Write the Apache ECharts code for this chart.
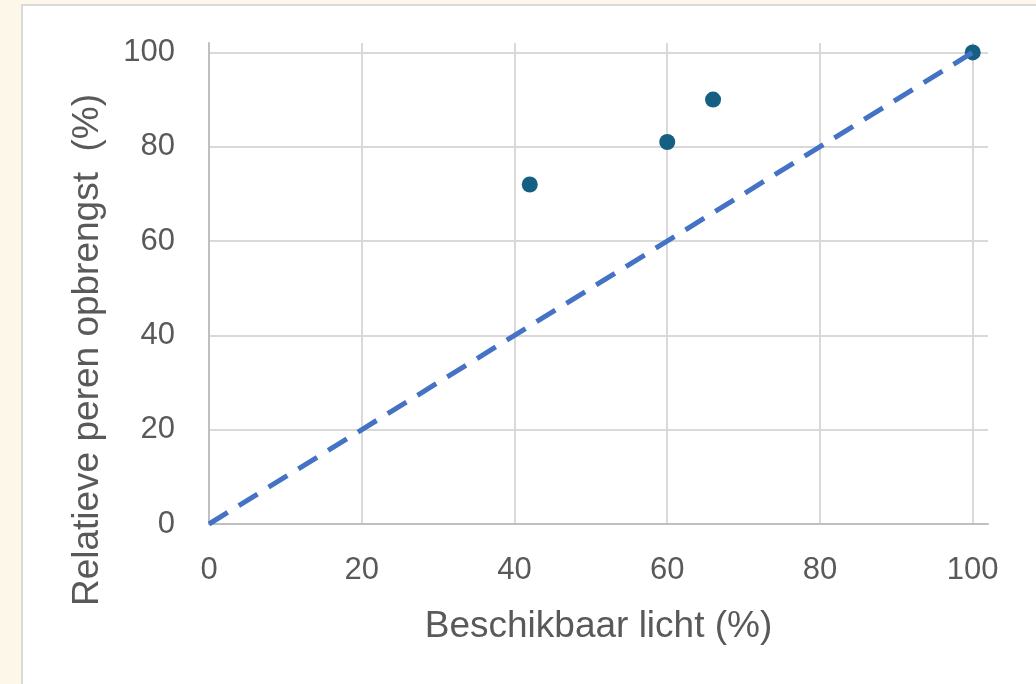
<!DOCTYPE html>
<html>
<head>
<meta charset="utf-8">
<script src="https://cdn.jsdelivr.net/npm/echarts@6/dist/echarts.min.js"></script>
<style>
  html, body { margin: 0; padding: 0; background: #fdf7ea; }
  #chart { width: 1036px; height: 684px; }
</style>
</head>
<body>
<div id="chart"></div>
<script>
// Data
const lightValues = [42, 60, 66, 100];   // Beschikbaar licht (%)
const yieldValues = [72, 81, 90, 100];   // Relatieve peren opbrengst (%)
const refLineX = [0, 100];
const refLineY = [0, 100];
const xTicks = [0, 20, 40, 60, 80, 100];
const yTicks = [0, 20, 40, 60, 80, 100];
const xTitle = 'Beschikbaar licht (%)';
const yTitle = 'Relatieve peren opbrengst  (%)';

const scatterData = lightValues.map((v, i) => [v, yieldValues[i]]);
const lineData = refLineX.map((v, i) => [v, refLineY[i]]);

const chart = echarts.init(document.getElementById('chart'), null, { renderer: 'canvas' });
const font = 'Liberation Sans, Arial, sans-serif';
chart.setOption({
  animation: false,
  backgroundColor: '#fdf7ea',
  graphic: [
    {
      type: 'rect',
      z: -10,
      silent: true,
      shape: { x: 22, y: 5, width: 1100, height: 720 },
      style: { fill: '#ffffff', stroke: '#d9d9d9', lineWidth: 2 }
    },
    {
      type: 'text',
      silent: true,
      x: 88,
      y: 350,
      rotation: Math.PI / 2,
      style: {
        text: yTitle,
        fill: '#595959',
        fontSize: 37,
        fontFamily: font,
        align: 'center',
        verticalAlign: 'middle'
      }
    }
  ],
  grid: { left: 209, top: 43, right: 48, bottom: 160, containLabel: false },
  xAxis: {
    type: 'value',
    min: 0,
    max: 102,
    name: xTitle,
    nameLocation: 'middle',
    nameGap: 84,
    nameTextStyle: { color: '#595959', fontSize: 37, fontFamily: font },
    axisLine: { show: true, onZero: false, lineStyle: { color: '#bfbfbf', width: 2 } },
    axisTick: { show: false, customValues: xTicks },
    axisLabel: { customValues: xTicks, color: '#595959', fontSize: 31, fontFamily: font, margin: 31 },
    splitLine: { show: true, customValues: xTicks, lineStyle: { color: '#d9d9d9', width: 2 } }
  },
  yAxis: {
    type: 'value',
    min: 0,
    max: 102,
    axisLine: { show: true, onZero: false, lineStyle: { color: '#bfbfbf', width: 2 } },
    axisTick: { show: false, customValues: yTicks },
    axisLabel: { customValues: yTicks, color: '#595959', fontSize: 31, fontFamily: font, margin: 34 },
    splitLine: { show: true, customValues: yTicks, lineStyle: { color: '#d9d9d9', width: 2 } }
  },
  series: [
    {
      type: 'scatter',
      data: scatterData,
      symbol: 'circle',
      symbolSize: 16,
      itemStyle: { color: '#156082', opacity: 1 },
      z: 2
    },
    {
      type: 'line',
      data: lineData,
      symbol: 'none',
      lineStyle: { color: '#4472c4', width: 5, type: [22, 13] },
      z: 3
    }
  ]
});
</script>
</body>
</html>
